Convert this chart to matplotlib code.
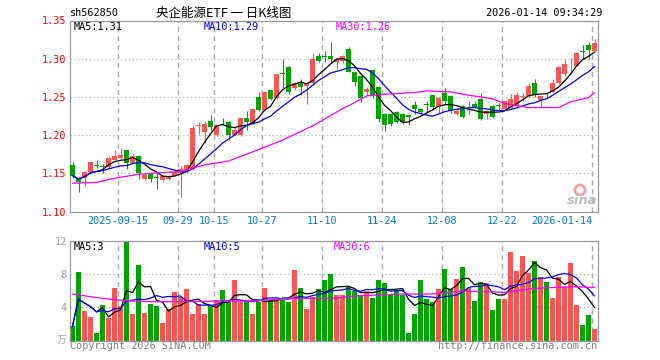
import numpy as np
import pandas as pd
import matplotlib
matplotlib.use("Agg")
import matplotlib.pyplot as plt
import matplotlib.transforms as mtrans
from matplotlib.patches import Circle

# daily candles, 2025-09-03 .. 2026-01-14
opens = [1.161, 1.144, 1.144, 1.152, 1.161, 1.159, 1.158, 1.168, 1.170, 1.180,
         1.164, 1.173, 1.143, 1.149, 1.145, 1.141, 1.143, 1.147, 1.150, 1.152,
         1.156, 1.212, 1.204, 1.219, 1.200, 1.219, 1.217, 1.200, 1.200, 1.222,
         1.216, 1.250, 1.233, 1.259, 1.248, 1.281, 1.289, 1.261, 1.268, 1.264,
         1.268, 1.303, 1.303, 1.303, 1.296, 1.297, 1.313, 1.283, 1.278, 1.256,
         1.285, 1.263, 1.228, 1.227, 1.230, 1.228, 1.226, 1.240, 1.234, 1.240,
         1.252, 1.237, 1.255, 1.251, 1.228, 1.238, 1.2365, 1.241, 1.247, 1.227,
         1.238, 1.2381, 1.234, 1.236, 1.238, 1.2497, 1.251, 1.268, 1.246, 1.2537,
         1.257, 1.268, 1.280, 1.2940, 1.291, 1.309, 1.318, 1.310]
highs = [1.165, 1.145, 1.153, 1.165, 1.167, 1.162, 1.172, 1.181, 1.183, 1.181,
         1.175, 1.174, 1.151, 1.150, 1.150, 1.146, 1.148, 1.153, 1.159, 1.162,
         1.213, 1.217, 1.219, 1.226, 1.214, 1.223, 1.218, 1.210, 1.223, 1.231,
         1.235, 1.257, 1.257, 1.259, 1.280, 1.300, 1.290, 1.270, 1.274, 1.270,
         1.307, 1.308, 1.310, 1.322, 1.302, 1.305, 1.315, 1.283, 1.279, 1.263,
         1.286, 1.264, 1.229, 1.228, 1.231, 1.229, 1.227, 1.244, 1.234, 1.244,
         1.253, 1.250, 1.261, 1.252, 1.235, 1.239, 1.244, 1.244, 1.255, 1.233,
         1.239, 1.242, 1.245, 1.254, 1.257, 1.255, 1.268, 1.273, 1.252, 1.255,
         1.274, 1.291, 1.300, 1.301, 1.309, 1.318, 1.322, 1.326]
lows = [1.144, 1.126, 1.133, 1.150, 1.157, 1.151, 1.157, 1.167, 1.169, 1.155,
        1.163, 1.143, 1.141, 1.138, 1.129, 1.138, 1.141, 1.146, 1.119, 1.150,
        1.154, 1.202, 1.190, 1.207, 1.199, 1.213, 1.194, 1.199, 1.199, 1.207,
        1.215, 1.231, 1.232, 1.246, 1.247, 1.261, 1.254, 1.259, 1.252, 1.241,
        1.266, 1.296, 1.296, 1.294, 1.285, 1.295, 1.282, 1.264, 1.243, 1.252,
        1.249, 1.217, 1.206, 1.212, 1.216, 1.215, 1.213, 1.228, 1.229, 1.230,
        1.233, 1.229, 1.241, 1.229, 1.226, 1.222, 1.226, 1.235, 1.220, 1.221,
        1.223, 1.233, 1.233, 1.235, 1.236, 1.244, 1.250, 1.250, 1.237, 1.248,
        1.255, 1.267, 1.278, 1.281, 1.290, 1.300, 1.300, 1.309]
closes = [1.147, 1.138, 1.152, 1.165, 1.160, 1.158, 1.170, 1.173, 1.174, 1.164,
          1.173, 1.151, 1.148, 1.143, 1.144, 1.146, 1.147, 1.152, 1.156, 1.161,
          1.209, 1.213, 1.214, 1.211, 1.213, 1.218, 1.200, 1.207, 1.222, 1.217,
          1.234, 1.233, 1.257, 1.247, 1.280, 1.280, 1.257, 1.268, 1.263, 1.268,
          1.299, 1.297, 1.302, 1.299, 1.300, 1.303, 1.283, 1.269, 1.249, 1.260,
          1.252, 1.221, 1.213, 1.215, 1.217, 1.217, 1.224, 1.234, 1.230, 1.2398,
          1.237, 1.248, 1.244, 1.232, 1.232, 1.224, 1.237, 1.237, 1.221, 1.231,
          1.224, 1.2379, 1.244, 1.247, 1.252, 1.2501, 1.264, 1.252, 1.251, 1.2535,
          1.268, 1.289, 1.293, 1.2944, 1.308, 1.3086, 1.312, 1.320]
# volume in 万手
volumes = [1.76, 8.24, 3.56, 2.84, 0.92, 4.28, 2.72, 6.32, 4.16, 12.5,
           3.2, 9.12, 3.32, 4.4, 4.16, 2.12, 3.8, 5.84, 5.3, 6.2,
           3.2, 4.4, 3.2, 4.2, 4.9, 6.1, 4.7, 7.3, 4.6, 4.8,
           3.2, 4.6, 6.3, 4.9, 4.9, 4.9, 4.6, 8.5, 6.3, 3.8,
           5.3, 6.2, 7.3, 8.0, 5.48, 5.48, 6.4, 5.96, 5.44, 5.88,
           5.12, 7.28, 6.96, 5.48, 6.08, 5.48, 0.92, 3.2, 7.28, 5.0,
           4.68, 6.2, 8.6, 6.2, 7.4, 8.88, 6.36, 4.76, 7.0, 6.88,
           3.68, 5.0, 5.0, 10.64, 8.36, 10.16, 8.16, 9.56, 7.6, 7.0,
           5.12, 7.68, 6.4, 9.32, 4.28, 1.88, 3.08, 1.4]

# 30-day averages (they reach back before the window)
ma30_idx = [0, 4, 7, 11, 15, 18, 19, 22, 26, 31, 35, 40, 45, 47, 49, 52, 57,
            59, 63, 66, 68, 70, 72, 76, 81, 83, 86, 87]
ma30_vals = [1.137, 1.138, 1.1435, 1.1487, 1.151, 1.1522, 1.1544, 1.161, 1.166,
             1.181, 1.1935, 1.212, 1.2345, 1.2425, 1.2513, 1.2535, 1.2557, 1.2579,
             1.2565, 1.2522, 1.250, 1.2475, 1.2414, 1.236, 1.236, 1.2435, 1.249, 1.2555]
vol_ma30_idx = [0, 3, 6, 9, 13, 18, 24, 30, 36, 43, 48, 55, 60, 65, 72, 77, 83, 87]
vol_ma30_vals = [5.6, 5.28, 5.0, 4.8, 4.68, 4.68, 4.76, 4.76, 5.08, 5.08, 5.4,
                 5.6, 5.6, 5.96, 5.8, 6.28, 6.48, 6.4]

tick_idx = [8, 18, 24, 32, 42, 52, 62, 72, 87]
tick_labels = ['2025-09-15', '09-29', '10-15', '10-27', '11-10', '11-24',
               '12-08', '12-22', '2026-01-14']

RED = '#ff5555'
GREEN = '#00a400'
GRID = '#aaaaaa'
MONO = 'DejaVu Sans Mono'
CJK = ['Noto Sans CJK SC', 'DejaVu Sans']
FS = 7.3

df = pd.DataFrame({'o': opens, 'h': highs, 'l': lows, 'c': closes, 'v': volumes})
x = np.arange(len(df))
up = df.c >= df.o
colors = np.where(up, RED, GREEN)
ma5 = df.c.rolling(5, min_periods=1).mean()
ma10 = df.c.rolling(10, min_periods=1).mean()
vma5 = df.v.rolling(5, min_periods=1).mean()
vma10 = df.v.rolling(10, min_periods=1).mean()

W, H = 660, 360
fig = plt.figure(figsize=(W / 100, H / 100), dpi=100)
fig.patch.set_facecolor('white')

def px(l, t, r, b):
    return [l / W, 1 - b / H, (r - l) / W, (b - t) / H]

ax = fig.add_axes(px(69.5, 20.5, 597.5, 211.5))
axv = fig.add_axes(px(69.5, 240.7, 597.5, 340.7))

for a in (ax, axv):
    a.set_xlim(-0.5, len(df) - 0.5)
    for s in a.spines.values():
        s.set_color('#999999')
        s.set_linewidth(0.9)
    a.set_xticks([])
    a.tick_params(axis='y', length=0, pad=2)
    for i in tick_idx:
        a.axvline(i - 0.4, color=GRID, lw=1.0, ls=(0, (3.6, 2.9)), zorder=0)

# price panel
ax.set_ylim(1.10, 1.35)
yt = [1.10, 1.15, 1.20, 1.25, 1.30, 1.35]
ax.set_yticks(yt)
ax.set_yticklabels([f'{v:.2f}' for v in yt], color='red', family=MONO, fontsize=FS)
for v in yt[1:-1]:
    ax.axhline(v, color=GRID, lw=0.8, ls=(0, (1, 2.5)), zorder=0)

body = np.maximum((df.c - df.o).abs(), 0.0009)
ax.vlines(x, df.l, df.h, colors=colors, lw=0.8, zorder=2)
ax.bar(x, body, 0.83, bottom=np.minimum(df.o, df.c), color=colors, zorder=3)
ax.plot(x, ma5, color='black', lw=0.9, zorder=4)
ax.plot(x, ma10, color='#0000ff', lw=0.9, zorder=4)
ax.plot(ma30_idx, ma30_vals, color='#ff00ff', lw=0.9, zorder=4)

bt = mtrans.blended_transform_factory(ax.transData, ax.transAxes)
for i, lab in zip(tick_idx, tick_labels):
    ha = 'right' if i == tick_idx[-1] else 'center'
    ax.text(i - 0.4, -0.052, lab, transform=bt, ha=ha, va='center',
            color='#0078d7', family=MONO, fontsize=FS)

# volume panel
axv.set_ylim(0, 12)
axv.set_yticks([4, 8, 12])
axv.set_yticklabels(['4', '8', '12'], color='#999999', family=MONO, fontsize=FS)
for v in (4, 8):
    axv.axhline(v, color=GRID, lw=0.8, ls=(0, (1, 2.5)), zorder=0)
axv.bar(x, df.v, 0.83, color=colors, zorder=2)
axv.plot(x, vma5, color='black', lw=0.9, zorder=3)
axv.plot(x, vma10, color='#0000ff', lw=0.9, zorder=3)
axv.plot(vol_ma30_idx, vol_ma30_vals, color='#ff00ff', lw=0.9, zorder=3)

def ftext(xp, yp, s, **kw):
    fig.text(xp / W, 1 - yp / H, s, va='center', **kw)

ftext(66, 340, '万', ha='right', color='#aaaaaa', family=CJK, fontsize=7)

# header
ftext(70, 13, 'sh562850', family=MONO, fontsize=FS, color='black')
ftext(224, 13, '央企能源ETF 一 日K线图', ha='center', family=CJK, fontsize=9, color='black')
ftext(602, 13, '2026-01-14 09:34:29', ha='right', family=MONO, fontsize=FS, color='black')

# MA legends
ftext(74, 26.5, 'MA5:1.31', family=MONO, fontsize=FS, color='black')
ftext(204, 26.5, 'MA10:1.29', family=MONO, fontsize=FS, color='#0000ff')
ftext(336, 26.5, 'MA30:1.26', family=MONO, fontsize=FS, color='#ff00ff')
ftext(74, 246.5, 'MA5:3', family=MONO, fontsize=FS, color='black')
ftext(204, 246.5, 'MA10:5', family=MONO, fontsize=FS, color='#0000ff')
ftext(334, 246.5, 'MA30:6', family=MONO, fontsize=FS, color='#ff00ff')

# footer
ftext(69.5, 346, 'Copyright 2026 SINA.COM', family=MONO, fontsize=FS, color='#808080')
ftext(597.5, 346, 'http://finance.sina.com.cn', ha='right', family=MONO, fontsize=FS, color='#808080')

# sina watermark
fig.add_artist(Circle((580, H - 190), 5, transform=mtrans.IdentityTransform(),
                      fill=False, ec='#f5a0a0', lw=2.0))
ftext(582, 201, 'sina', ha='center', family='DejaVu Sans', fontsize=9.5,
      style='italic', weight='bold', color='#bdbdbd')

fig.savefig('out.png', dpi=100)
